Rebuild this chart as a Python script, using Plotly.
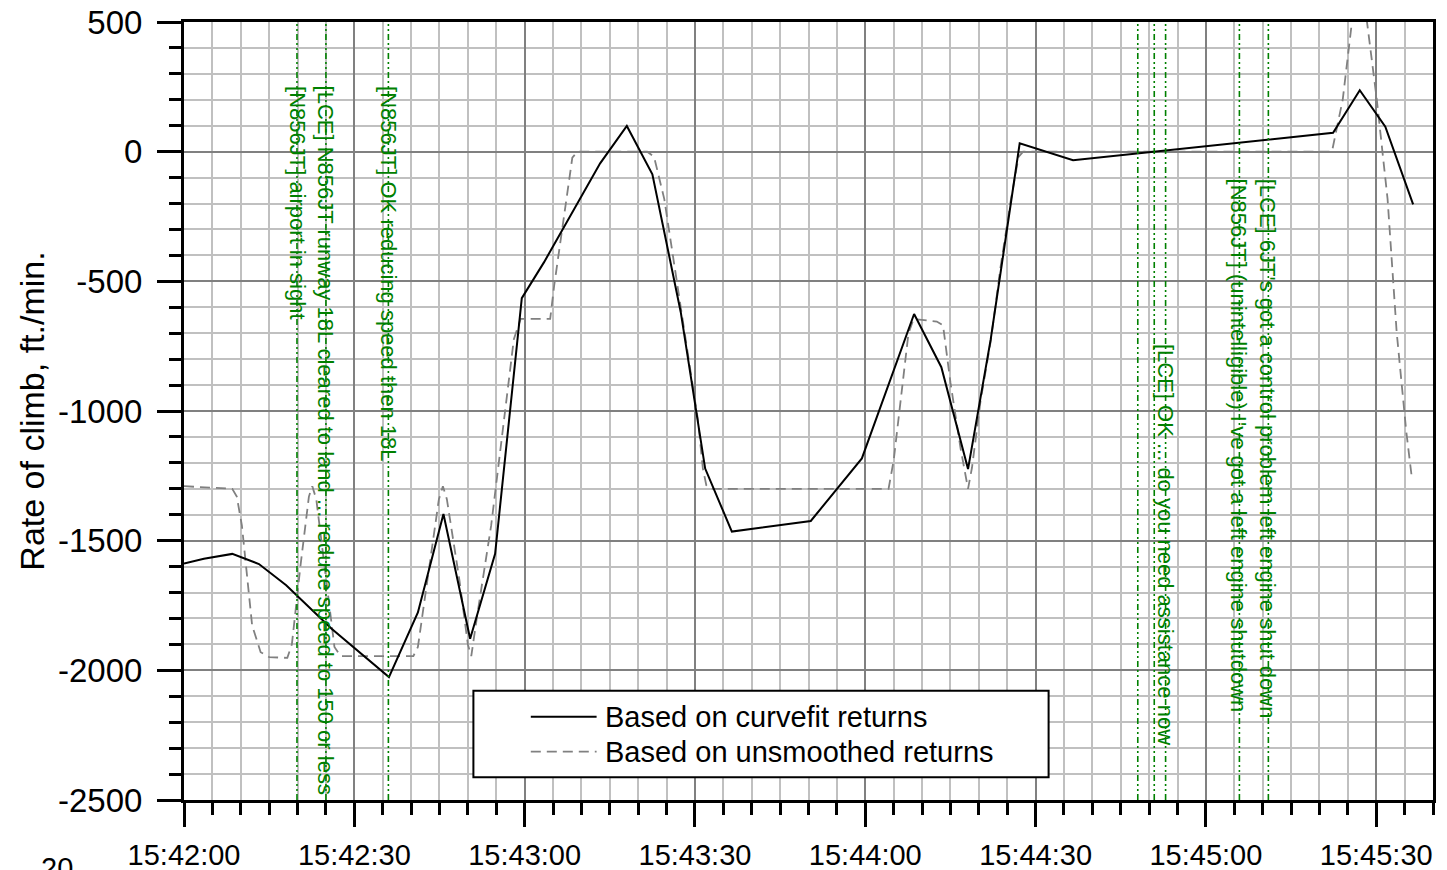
import pandas as pd
import plotly.graph_objects as go

# ---------------- data ----------------
START = "2005-01-01 15:42:00"

# curvefit-based rate of climb (seconds after 15:42:00, ft/min)
curve_t = [0, 3.5, 8.5, 13.2, 18.0, 26.0, 36.1, 41.2, 45.7, 50.4, 54.8, 59.5, 63.4,
           73.3, 78.0, 82.5, 87.5, 91.8, 96.5, 110.4, 119.4, 128.6, 133.4, 138.1,
           142.1, 147.2, 156.6, 202.4, 207.1, 211.6, 216.5]
curve_v = [-1588, -1570, -1551, -1590, -1672, -1840, -2026, -1777, -1397, -1878, -1551,
           -565, -427, -45, 99, -87, -619, -1222, -1465, -1424, -1183, -626, -831, -1224,
           -723, 32, -33, 73, 237, 96, -203]

# unsmoothed-return rate of climb
raw_t = [0, 8.5, 9.3, 10.2, 12.0, 13.5, 15.0, 18.2, 19.0, 20.5, 22.0, 22.6, 23.3, 25.0,
         26.5, 27.6, 40.4, 41.2, 43.0, 44.9, 45.6, 46.3, 48.5, 50.0, 50.6, 51.7, 54.1,
         55.7, 58.1, 59.3, 64.5, 65.2, 66.9, 68.4, 69.3, 81.6, 82.8, 84.6, 87.5, 90.5,
         91.4, 92.0, 92.8, 124.1, 125.0, 126.2, 127.6, 128.5, 132.6, 133.7, 135.0, 136.8,
         138.1, 138.8, 140.3, 142.1, 143.8, 145.6, 147.0, 147.8, 202.2, 204.1, 205.7,
         207.1, 208.4, 210.1, 212.0, 213.6, 215.3, 216.3]
raw_v = [-1290, -1300, -1330, -1442, -1827, -1930, -1949, -1952, -1900, -1600, -1330,
         -1290, -1340, -1650, -1910, -1945, -1945, -1910, -1640, -1340, -1290, -1340,
         -1650, -1900, -1945, -1780, -1442, -1158, -723, -645, -645, -517, -260, -23, 0,
         0, -20, -183, -600, -1030, -1222, -1286, -1300, -1300, -1191, -960, -702, -645,
         -655, -670, -890, -1146, -1300, -1218, -962, -731, -449, -192, -20, 0, 0, 201,
         496, 690, 496, 201, -183, -696, -1081, -1262]

# ATC / crew transmissions (seconds after 15:42:00)
event_t = [19.9, 25.0, 36.0, 168.0, 170.9, 172.9, 185.9, 191.0]
event_text = [
    "[N856JT] airport in sight",
    "[LCE] N856JT runway 18L cleared to land ... reduce speed to 150 or less",
    "[N856JT] OK reducing speed then 18L",
    "",
    "",
    "[LCE] OK ... do you need assistance now",
    "[N856JT] (unintelligible) I've got a left engine shutdown",
    "[LCE] 6JT's got a control problem left engine shut down",
]

y_ticks = [-2500, -2000, -1500, -1000, -500, 0, 500]
y_tick_text = ["-2500", "-2000", "-1500", "-1000", "-500", "0", "500"]

series_names = ["Based on curvefit returns", "Based on unsmoothed returns"]
y_title = "Rate of climb, ft./min."

# ---------------- layout helpers (pixels) ----------------
W, H = 1447, 870
ML, MR, MT, MB = 184, 14, 22, 70
PW, PH = W - ML - MR, H - MT - MB
label_tops_px = [85, 85, 85, 0, 0, 343, 178, 178]


def px_x(p):
    return (p - ML) / PW


def px_y(p):
    return (H - MB - p) / PH


t0 = pd.Timestamp(START)


def to_time(secs):
    return [t0 + pd.to_timedelta(s, unit="s") for s in secs]


FONT = "Liberation Sans, Arial, sans-serif"
GREEN = "#008000"
GRAY_DASH = "10px,6px"

fig = go.Figure()
fig.add_trace(go.Scatter(x=to_time(raw_t), y=raw_v, mode="lines", name=series_names[1],
                         line=dict(color="#808080", width=1.8, dash=GRAY_DASH),
                         showlegend=False))
fig.add_trace(go.Scatter(x=to_time(curve_t), y=curve_v, mode="lines", name=series_names[0],
                         line=dict(color="black", width=2), showlegend=False))

ev_times = to_time(event_t)
for et, txt, top in zip(ev_times, event_text, label_tops_px):
    fig.add_shape(type="line", xref="x", yref="paper", x0=et, x1=et, y0=0, y1=1,
                  line=dict(color=GREEN, width=1.6, dash="6px,3px,2px,3px,2px,3px"))
    if txt:
        fig.add_annotation(x=et, xref="x", y=px_y(top), yref="paper", text=txt,
                           textangle=90, showarrow=False, xanchor="center", yanchor="top",
                           font=dict(family=FONT, size=22, color=GREEN), borderpad=0)

# manual legend box
fig.add_shape(type="rect", xref="paper", yref="paper", x0=px_x(473.4), x1=px_x(1048.6),
              y0=px_y(777.3), y1=px_y(690.7), fillcolor="white",
              line=dict(color="black", width=2))
for i, (nm, dash, col, w) in enumerate([(series_names[0], "solid", "black", 2),
                                        (series_names[1], GRAY_DASH, "#808080", 1.8)]):
    yy = px_y(716.7 + 35 * i)
    fig.add_shape(type="line", xref="paper", yref="paper", x0=px_x(530.8), x1=px_x(596.6),
                  y0=yy, y1=yy, line=dict(color=col, width=w, dash=dash))
    fig.add_annotation(x=px_x(603), y=yy, xref="paper", yref="paper", text=nm,
                       showarrow=False, xanchor="left", yanchor="middle",
                       font=dict(family=FONT, size=29, color="black"))

# stray partial label at bottom-left, as in the source image
fig.add_annotation(x=px_x(57), y=px_y(850), xref="paper", yref="paper", text="20",
                   showarrow=False, xanchor="center", yanchor="top",
                   font=dict(family=FONT, size=29, color="black"))

axis_common = dict(
    showline=True, linecolor="black", linewidth=3, mirror=True,
    ticks="outside", ticklen=24, tickwidth=2.5, tickcolor="black",
    showgrid=True, gridcolor="#808080", gridwidth=1.5, zeroline=False,
)

fig.update_xaxes(
    type="date", range=[t0, t0 + pd.to_timedelta(220, unit="s")],
    tick0=t0, dtick=30000, tickformat="%H:%M:%S",
    minor=dict(dtick=5000, tick0=t0, ticks="outside", ticklen=12, tickwidth=2.5,
               tickcolor="black", showgrid=True, gridcolor="#c0c0c0", gridwidth=1.5),
    ticklabelstandoff=3,
    tickfont=dict(family=FONT, size=29, color="black"),
    **axis_common,
)
fig.update_yaxes(
    range=[-2500, 500], tickmode="array", tickvals=y_ticks, ticktext=y_tick_text,
    minor=dict(dtick=100, tick0=0, ticks="outside", ticklen=12, tickwidth=2.5,
               tickcolor="black", showgrid=True, gridcolor="#c0c0c0", gridwidth=1.5),
    title=dict(text=y_title, font=dict(family=FONT, size=34, color="black"), standoff=4),
    ticklabelstandoff=8,
    tickfont=dict(family=FONT, size=33, color="black"),
    **axis_common,
)

fig.update_layout(
    width=W, height=H,
    margin=dict(l=ML, r=MR, t=MT, b=MB, autoexpand=False),
    plot_bgcolor="white", paper_bgcolor="white",
    font=dict(family=FONT, color="black"),
    showlegend=False,
)

fig.write_html("out.html", config={"displayModeBar": False},
               post_script="document.body.style.margin='0px';")
